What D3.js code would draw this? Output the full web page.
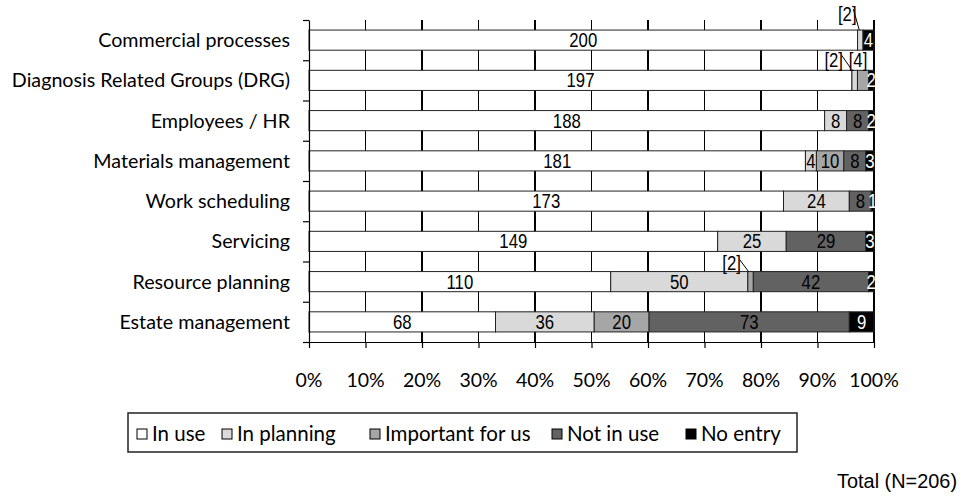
<!DOCTYPE html>
<html>
<head>
<meta charset="utf-8">
<script src="https://cdn.jsdelivr.net/npm/d3@7"></script>
<style>
  html, body { margin: 0; padding: 0; background: #fff; }
  svg { display: block; }
  .cat { font-family: Lato, "Open Sans", sans-serif; font-size: 19.7px; fill: #000; }
  .leg { font-family: Lato, "Open Sans", sans-serif; font-size: 20.5px; fill: #000; }
  .tick-lbl { font-family: Lato, "Open Sans", sans-serif; font-size: 19.5px; fill: #000; }
  .val { font-family: "Liberation Sans", Arial, sans-serif; font-size: 19.5px; }
</style>
</head>
<body>
<svg id="chart" width="962" height="499"></svg>
<script>
// Survey responses per application area (N = 206)
const categories = [
  "Commercial processes",
  "Diagnosis Related Groups (DRG)",
  "Employees / HR",
  "Materials management",
  "Work scheduling",
  "Servicing",
  "Resource planning",
  "Estate management"
];
const seriesNames = ["In use", "In planning", "Important for us", "Not in use", "No entry"];
const inUse       = [200, 197, 188, 181, 173, 149, 110, 68];
const inPlanning  = [  2,   2,   8,   4,  24,  25,  50, 36];
const important   = [  0,   4,   0,  10,   0,   0,   2, 20];
const notInUse    = [  0,   0,   8,   8,   8,  29,  42, 73];
const noEntry     = [  4,   2,   2,   3,   1,   3,   2,  9];
const xTickLabels = ["0%","10%","20%","30%","40%","50%","60%","70%","80%","90%","100%"];
const totalNote = "Total (N=206)";

const seriesValues = [inUse, inPlanning, important, notInUse, noEntry];
const colors = ["#ffffff", "#d9d9d9", "#a6a6a6", "#626262", "#000000"];

const rows = categories.map((c, i) => {
  const r = { category: c };
  seriesNames.forEach((s, k) => r[s] = seriesValues[k][i]);
  return r;
});

const svg = d3.select("#chart");
const plotL = 309, plotR = 874, plotT = 20, plotB = 342;

const x = d3.scaleLinear().domain([0, 1]).range([plotL, plotR]);
const y = d3.scaleBand().domain(categories).range([plotT, plotB])
  .paddingInner(0.5).paddingOuter(0.25);
const yEdge = d3.scaleLinear().domain([0, categories.length]).range([plotT, plotB]);

const stack = d3.stack().keys(seriesNames).offset(d3.stackOffsetExpand);
const layers = stack(rows);

// condensed text helper
function narrowText(sel, tx, ty, str, anchor, fill, squeeze = 0.86) {
  return sel.append("text")
    .attr("class", "val")
    .attr("transform", `translate(${tx},${ty}) scale(${squeeze},1)`)
    .attr("text-anchor", anchor)
    .attr("fill", fill)
    .text(str);
}

// vertical gridlines
svg.append("g").selectAll("line")
  .data(d3.range(1, 11).map(d => d / 10))
  .join("line")
  .attr("x1", d => x(d)).attr("x2", d => x(d))
  .attr("y1", plotT).attr("y2", plotB)
  .attr("stroke", "#000").attr("stroke-width", 1.2)
  .attr("shape-rendering", "crispEdges");

// stacked bars
const layerG = svg.append("g").selectAll("g")
  .data(layers).join("g")
  .attr("fill", (d, i) => colors[i]);
layerG.selectAll("rect")
  .data(d => d.filter(p => p[1] - p[0] > 0))
  .join("rect")
  .attr("x", d => x(d[0]))
  .attr("width", d => x(d[1]) - x(d[0]))
  .attr("y", d => y(d.data.category))
  .attr("height", y.bandwidth())
  .attr("stroke", "#222").attr("stroke-width", 1);

// axes
const xAxis = d3.axisBottom(x).tickValues(d3.range(0, 11).map(d => d / 10))
  .tickFormat("").tickSize(6).tickSizeOuter(0);
svg.append("g").attr("transform", `translate(0,${plotB})`).call(xAxis)
  .call(g => g.selectAll("path,line").attr("stroke", "#000").attr("stroke-width", 1.2));

const yAxis = d3.axisLeft(yEdge).ticks(categories.length).tickFormat("").tickSize(6).tickSizeOuter(0);
svg.append("g").attr("transform", `translate(${plotL},0)`).call(yAxis)
  .call(g => g.selectAll("path,line").attr("stroke", "#000").attr("stroke-width", 1.2));

// x tick labels
svg.append("g").selectAll("text")
  .data(xTickLabels).join("text")
  .attr("class", "tick-lbl")
  .attr("x", (d, i) => x(i / 10)).attr("y", 387)
  .attr("text-anchor", "middle")
  .text(d => d);

// category labels
svg.append("g").selectAll("text")
  .data(categories).join("text")
  .attr("class", "cat")
  .attr("x", 290).attr("y", d => y(d) + y.bandwidth() / 2 + 7)
  .attr("text-anchor", "end")
  .text(d => d);

// value labels (clipped to plot area)
svg.append("clipPath").attr("id", "plotClip")
  .append("rect").attr("x", plotL).attr("y", 0).attr("width", plotR - plotL + 1).attr("height", plotB);

// small segments labelled outside the bar with a bracket
const callouts = [
  { cat: "Commercial processes", key: "In planning", dx: -13, dy: -9, leader: [[6, -21], [-1, 0]] },
  { cat: "Diagnosis Related Groups (DRG)", key: "In planning", dx: -21, dy: -3, leader: [[8, -15], [-4, -2]] },
  { cat: "Diagnosis Related Groups (DRG)", key: "Important for us", dx: -5, dy: -3, leader: null },
  { cat: "Resource planning", key: "Important for us", dx: -19, dy: -2, leader: [[8, -12], [-2, 0]] }
];
const isCallout = (cat, key) => callouts.some(c => c.cat === cat && c.key === key);

const valG = svg.append("g").attr("clip-path", "url(#plotClip)");
layers.forEach(layer => {
  layer.forEach(p => {
    const v = p.data[layer.key];
    if (!v || isCallout(p.data.category, layer.key)) return;
    narrowText(valG,
      (x(p[0]) + x(p[1])) / 2,
      y(p.data.category) + y.bandwidth() / 2 + 7,
      v, "middle", layer.key === "No entry" ? "#fff" : "#000");
  });
});

const callG = svg.append("g");
callouts.forEach(c => {
  const layer = layers.find(l => l.key === c.key);
  const p = layer[categories.indexOf(c.cat)];
  const cx = (x(p[0]) + x(p[1])) / 2;
  const ty = y(c.cat);
  const tx = cx + c.dx;
  narrowText(callG, tx, ty + c.dy, `[${p.data[c.key]}]`, "middle", "#000");
  if (c.leader) {
    callG.append("line")
      .attr("x1", tx + c.leader[0][0]).attr("y1", ty + c.leader[0][1])
      .attr("x2", cx + c.leader[1][0]).attr("y2", ty + c.leader[1][1])
      .attr("stroke", "#000").attr("stroke-width", 1);
  }
});

// legend
const legend = svg.append("g");
legend.append("rect")
  .attr("x", 128).attr("y", 413).attr("width", 669).attr("height", 39)
  .attr("fill", "#fff").attr("stroke", "#222").attr("stroke-width", 1.5);
const legendX = [137, 222, 370, 552, 686];
seriesNames.forEach((s, i) => {
  const g = legend.append("g").attr("transform", `translate(${legendX[i]},0)`);
  g.append("rect").attr("x", 0).attr("y", 429).attr("width", 10).attr("height", 10)
    .attr("fill", colors[i]).attr("stroke", "#000").attr("stroke-width", 1);
  g.append("text").attr("class", "leg").attr("x", 15).attr("y", 441).text(s);
});

narrowText(svg, 957, 488, totalNote, "end", "#000", 1.02);
</script>
</body>
</html>
